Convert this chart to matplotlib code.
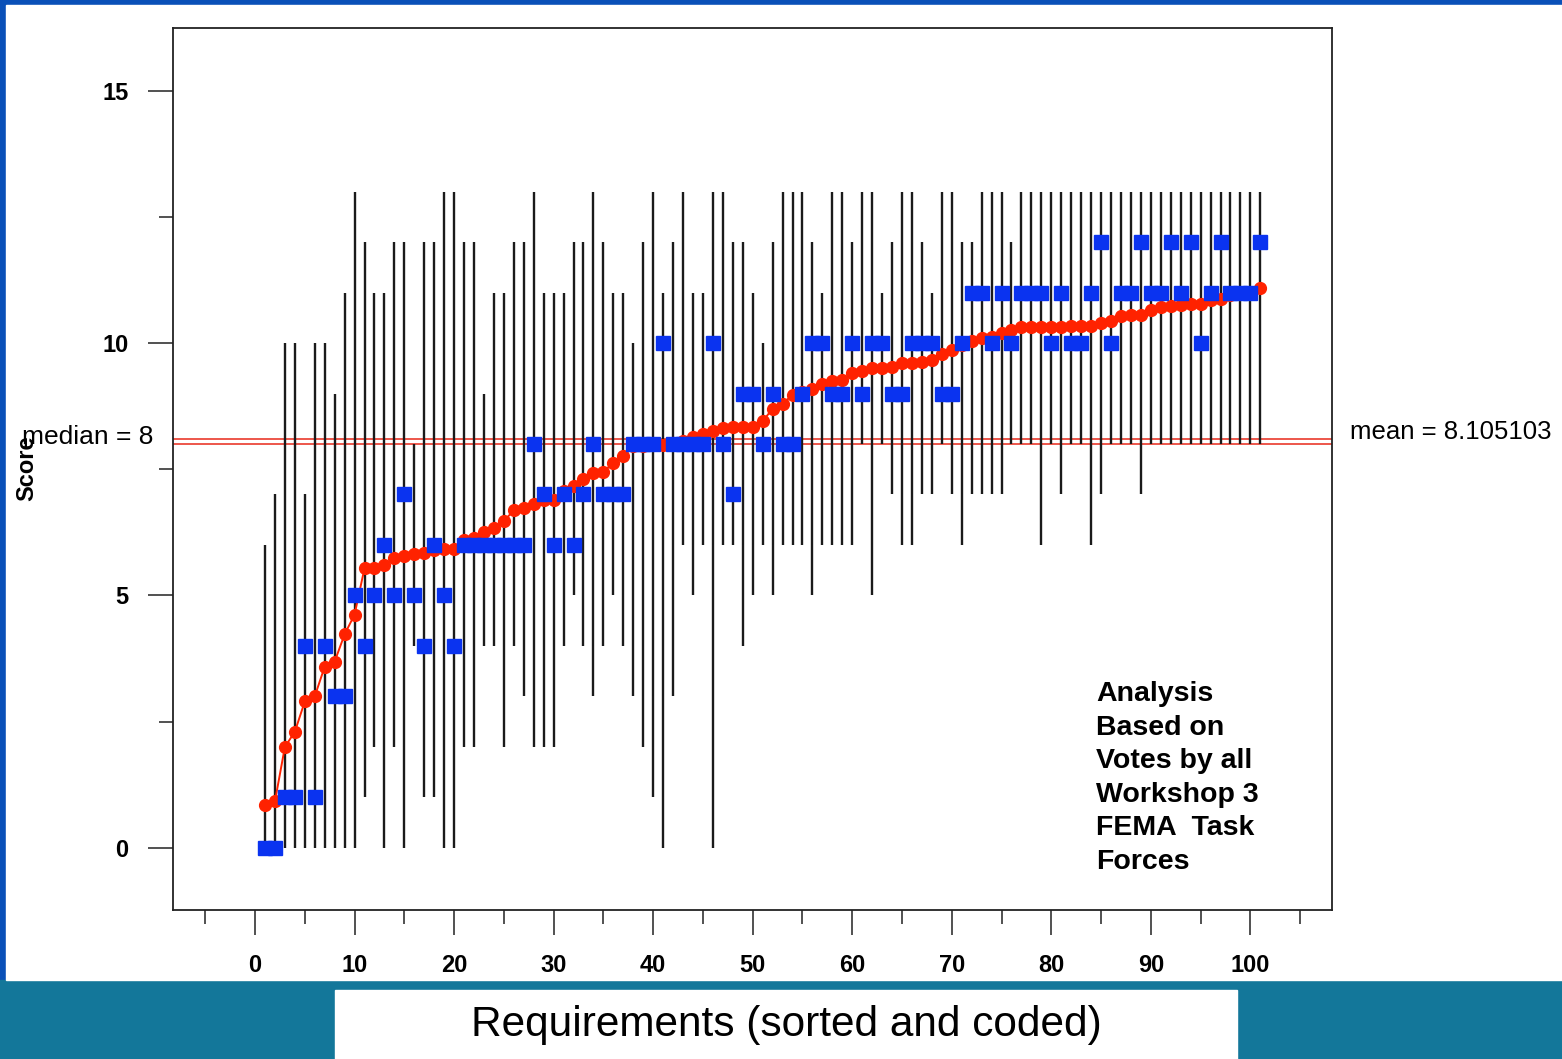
import matplotlib.pyplot as plt
from matplotlib.patches import Rectangle
import numpy as np

plt.rcParams['font.family'] = ['Liberation Sans', 'DejaVu Sans']

# requirements 1..101, sorted by mean vote
req = np.arange(1, 102)
score_max = [6, 7, 10, 10, 7, 10, 10, 9, 11, 13,
             12, 11, 11, 12, 12, 8, 12, 12, 13, 13,
             12, 12, 9, 11, 11, 12, 12, 13, 11, 11,
             11, 12, 12, 13, 12, 11, 11, 10, 12, 13,
             11, 12, 13, 11, 11, 13, 13, 12, 12, 11,
             10, 12, 13, 13, 13, 12, 11, 13, 13, 12,
             13, 13, 11, 12, 13, 13, 12, 11, 13, 13,
             12, 12, 13, 13, 13, 12, 13, 13, 13, 13,
             13, 13, 13, 13, 13, 13, 13, 13, 13, 13,
             13, 13, 13, 13, 13, 13, 13, 13, 13, 13,
             13]
score_min = [0, 0, 0, 0, 0, 0, 0, 0, 0, 0,
             1, 2, 0, 2, 0, 4, 1, 1, 0, 0,
             2, 2, 4, 4, 2, 4, 3, 2, 2, 2,
             4, 5, 4, 3, 4, 5, 4, 3, 2, 1,
             0, 3, 6, 5, 6, 0, 6, 6, 4, 5,
             6, 5, 6, 6, 6, 5, 6, 6, 6, 6,
             8, 5, 8, 7, 6, 6, 7, 7, 8, 7,
             6, 7, 7, 7, 7, 8, 8, 8, 6, 8,
             7, 8, 8, 6, 7, 8, 8, 8, 7, 8,
             8, 8, 8, 8, 8, 8, 8, 8, 8, 8,
             8]
score_median = [0, 0, 1, 1, 4, 1, 4, 3, 3, 5,
                4, 5, 6, 5, 7, 5, 4, 6, 5, 4,
                6, 6, 6, 6, 6, 6, 6, 8, 7, 6,
                7, 6, 7, 8, 7, 7, 7, 8, 8, 8,
                10, 8, 8, 8, 8, 10, 8, 7, 9, 9,
                8, 9, 8, 8, 9, 10, 10, 9, 9, 10,
                9, 10, 10, 9, 9, 10, 10, 10, 9, 9,
                10, 11, 11, 10, 11, 10, 11, 11, 11, 10,
                11, 10, 10, 11, 12, 10, 11, 11, 12, 11,
                11, 12, 11, 12, 10, 11, 12, 11, 11, 11,
                12]
score_mean = [0.84, 0.92, 2.0, 2.3, 2.9, 3.0, 3.59, 3.69, 4.23, 4.62,
              5.54, 5.54, 5.61, 5.74, 5.79, 5.83, 5.85, 5.91, 5.92, 5.93,
              6.10, 6.13, 6.26, 6.34, 6.47, 6.69, 6.73, 6.82, 6.90, 6.90,
              7.07, 7.16, 7.31, 7.42, 7.45, 7.63, 7.76, 7.96, 7.97, 7.98,
              7.98, 8.02, 8.06, 8.13, 8.19, 8.25, 8.32, 8.33, 8.34, 8.34,
              8.45, 8.70, 8.80, 8.97, 9.03, 9.09, 9.18, 9.25, 9.27, 9.40,
              9.45, 9.51, 9.51, 9.53, 9.60, 9.61, 9.62, 9.66, 9.78, 9.87,
              9.96, 10.05, 10.09, 10.12, 10.20, 10.26, 10.31, 10.32, 10.32, 10.32,
              10.32, 10.33, 10.33, 10.34, 10.39, 10.43, 10.54, 10.56, 10.56, 10.65,
              10.71, 10.73, 10.75, 10.77, 10.77, 10.86, 10.88, 10.95, 10.97, 10.99,
              11.09]
overall_median = 8
overall_mean = 8.105103
xticks_major = [0, 10, 20, 30, 40, 50, 60, 70, 80, 90, 100]
xticks_minor = [-5, 5, 15, 25, 35, 45, 55, 65, 75, 85, 95, 105]
yticks_major = [0, 5, 10, 15]
yticks_minor = [2.5, 7.5, 12.5]
note_lines = ["Analysis", "Based on", "Votes by all", "Workshop 3", "FEMA  Task", "Forces"]

W, H = 1562, 1059
fig = plt.figure(figsize=(W/100, H/100), dpi=100)
fig.patch.set_facecolor('#0a50b8')

# slide background: teal band at bottom, white page, white label box
fig.patches.append(Rectangle((0, 0), 1, 79/H, transform=fig.transFigure,
                             color='#13779a', zorder=-3))
fig.patches.append(Rectangle((6/W, 79/H), 1 - 6/W, 975/H, transform=fig.transFigure,
                             color='white', zorder=-2))
fig.patches.append(Rectangle((335/W, 0), 902/W, 69/H, transform=fig.transFigure,
                             color='white', zorder=-2))

ax = fig.add_axes([173/W, 1 - 910/H, (1332 - 173)/W, (910 - 28)/H])
ax.set_zorder(1)
ax.set_facecolor('white')

ax.vlines(req, score_min, score_max, color='#1a1a1a', lw=1.7, zorder=2)
ax.plot(req, score_mean, color='#ff2200', lw=1.4, marker='o', ms=8.5,
        mec='#ff2200', zorder=3)
ax.plot(req, score_median, 's', color='#0a33f0', ms=10, ls='none', zorder=4)
ax.axhline(overall_mean, color='#e8281a', lw=1.1, zorder=1)
ax.axhline(overall_median, color='#e8281a', lw=1.1, zorder=1)

ax.set_xlim(-8.24, 108.2)
ax.set_ylim(-1.23, 16.24)

ax.set_xticks(xticks_major)
ax.set_xticks(xticks_minor, minor=True)
ax.set_yticks(yticks_major)
ax.set_yticks(yticks_minor, minor=True)
ax.set_xticklabels([str(v) for v in xticks_major], fontsize=17, fontweight='bold')
ax.set_yticklabels([str(v) for v in yticks_major], fontsize=17, fontweight='bold')
ax.tick_params(which='major', length=18, width=1.1, pad=14, color='#222222')
ax.tick_params(which='minor', length=10, width=1.1, color='#222222')
for s in ax.spines.values():
    s.set_linewidth(1.3)
    s.set_color('#222222')

fig.text(22/W, 1 - 437/H, f'median = {overall_median}', ha='left', va='center', fontsize=19)
fig.text(1350/W, 1 - 432/H, f'mean = {overall_mean}', ha='left', va='center', fontsize=18.5)
fig.text(27/W, 1 - 468/H, 'Score', rotation=90, ha='center', va='center',
         fontsize=17, fontweight='bold')
fig.text(1096/W, 1 - 681/H, '\n'.join(note_lines), ha='left', va='top',
         fontsize=20.5, fontweight='bold', linespacing=1.38)
fig.text(786/W, 1 - 1025/H, 'Requirements (sorted and coded)', ha='center', va='center',
         fontsize=30.5)

fig.savefig('out.png', dpi=100, facecolor=fig.get_facecolor())
